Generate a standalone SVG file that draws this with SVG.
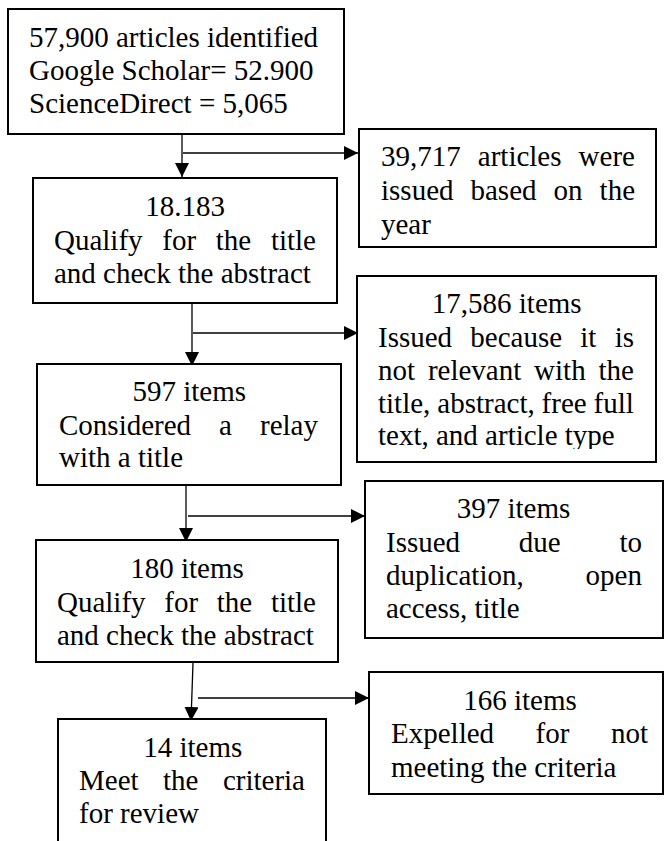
<svg xmlns="http://www.w3.org/2000/svg" width="665" height="841" viewBox="0 0 665 841">
<style>
.box{fill:#fff;stroke:#000;stroke-width:2}
.t{font-family:"Liberation Serif","Times New Roman",serif;font-size:29px;fill:#000}
.c{text-anchor:middle}
.ln{stroke:#000;stroke-width:1.3;fill:none}
</style>
<defs>
<marker id="ah" markerUnits="userSpaceOnUse" markerWidth="15" markerHeight="14" refX="14" refY="7" orient="auto">
<path d="M0,0 L14,7 L0,14 z" fill="#000"/>
</marker>
<clipPath id="clip4"><rect x="357" y="276" width="299" height="173"/></clipPath>
</defs>
<rect width="665" height="841" fill="#fff"/>

<g id="connectors">
<line class="ln" x1="182" y1="135" x2="182" y2="177" marker-end="url(#ah)"/>
<line class="ln" x1="183" y1="153" x2="358" y2="153" marker-end="url(#ah)"/>
<line class="ln" x1="192" y1="304" x2="192" y2="366" marker-end="url(#ah)"/>
<line class="ln" x1="193" y1="333" x2="358" y2="333" marker-end="url(#ah)"/>
<line class="ln" x1="186" y1="486" x2="186" y2="542" marker-end="url(#ah)"/>
<line class="ln" x1="188" y1="516" x2="365" y2="516" marker-end="url(#ah)"/>
<line class="ln" x1="193" y1="663" x2="191" y2="721" marker-end="url(#ah)"/>
<line class="ln" x1="198" y1="698" x2="369" y2="698" marker-end="url(#ah)"/>
</g>

<g id="n1">
<rect class="box" x="8" y="9" width="336" height="125"/>
<text class="t" x="29" y="47">57,900 articles identified</text>
<text class="t" x="29" y="80">Google Scholar= 52.900</text>
<text class="t" x="29" y="113">ScienceDirect = 5,065</text>
</g>

<g id="n2">
<rect class="box" x="33" y="178" width="304" height="125"/>
<text class="t c" x="185" y="216">18.183</text>
<text class="t" y="250"><tspan x="54">Qualify</tspan><tspan x="162.3">for</tspan><tspan x="215.8">the</tspan><tspan x="270.9">title</tspan></text>
<text class="t" x="54" y="283">and check the abstract</text>
</g>

<g id="n3">
<rect class="box" x="359" y="129" width="297" height="118"/>
<text class="t" y="166"><tspan x="381">39,717</tspan><tspan x="477.8">articles</tspan><tspan x="578.6">were</tspan></text>
<text class="t" y="200"><tspan x="381">issued</tspan><tspan x="470.5">based</tspan><tspan x="553.6">on</tspan><tspan x="599.6">the</tspan></text>
<text class="t" x="381" y="234">year</text>
</g>

<g id="n4">
<rect class="box" x="357" y="276" width="299" height="186"/>
<g clip-path="url(#clip4)">
<text class="t c" x="506.7" y="313">17,586 items</text>
<text class="t" y="347"><tspan x="378">Issued</tspan><tspan x="470.3">because</tspan><tspan x="580.3">it</tspan><tspan x="614.7">is</tspan></text>
<text class="t" y="380"><tspan x="378">not</tspan><tspan x="427.9">relevant</tspan><tspan x="534.1">with</tspan><tspan x="598.5">the</tspan></text>
<text class="t" y="413"><tspan x="378">title,</tspan><tspan x="437.3">abstract,</tspan><tspan x="541.6">free</tspan><tspan x="593.6">full</tspan></text>
<text class="t" x="378" y="445">text, and article type</text>
</g>
</g>

<g id="n5">
<rect class="box" x="37" y="364" width="304" height="121"/>
<text class="t c" x="189.3" y="401">597 items</text>
<text class="t" y="435"><tspan x="59">Considered</tspan><tspan x="219.1">a</tspan><tspan x="260">relay</tspan></text>
<text class="t" x="59" y="467">with a title</text>
</g>

<g id="n6">
<rect class="box" x="365" y="481" width="298" height="157"/>
<text class="t c" x="513.5" y="518">397 items</text>
<text class="t" y="552"><tspan x="386">Issued</tspan><tspan x="518.8">due</tspan><tspan x="619.4">to</tspan></text>
<text class="t" y="585"><tspan x="386">duplication,</tspan><tspan x="585.6">open</tspan></text>
<text class="t" x="386" y="618">access, title</text>
</g>

<g id="n7">
<rect class="box" x="36" y="540" width="302" height="122"/>
<text class="t c" x="187" y="578">180 items</text>
<text class="t" y="612"><tspan x="57">Qualify</tspan><tspan x="164.3">for</tspan><tspan x="216.8">the</tspan><tspan x="270.9">title</tspan></text>
<text class="t" x="57" y="645">and check the abstract</text>
</g>

<g id="n8">
<rect class="box" x="369" y="672" width="294" height="122"/>
<text class="t c" x="520" y="710">166 items</text>
<text class="t" y="743"><tspan x="391">Expelled</tspan><tspan x="535.6">for</tspan><tspan x="610.9">not</tspan></text>
<text class="t" x="391" y="777">meeting the criteria</text>
</g>

<g id="n9">
<rect class="box" x="58" y="719" width="268" height="140"/>
<text class="t c" x="192.8" y="757">14 items</text>
<text class="t" y="790"><tspan x="79">Meet</tspan><tspan x="163">the</tspan><tspan x="222.9">criteria</tspan></text>
<text class="t" x="79" y="823">for review</text>
</g>
</svg>
